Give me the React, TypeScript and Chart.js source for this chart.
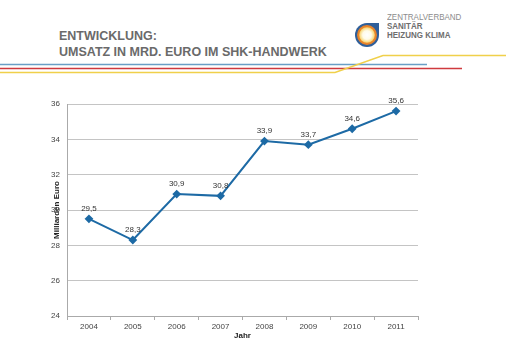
import React, { useEffect, useRef } from "react";
import { Chart, registerables } from "chart.js";

Chart.register(...registerables);

const years = ["2004", "2005", "2006", "2007", "2008", "2009", "2010", "2011"];
const revenue = [29.5, 28.3, 30.9, 30.8, 33.9, 33.7, 34.6, 35.6];
const yMin = 24;
const yMax = 36;
const yStep = 2;
const titleLines = ["ENTWICKLUNG:", "UMSATZ IN MRD. EURO IM SHK-HANDWERK"];
const logoLines = ["ZENTRALVERBAND", "SANITÄR", "HEIZUNG KLIMA"];
const yAxisTitle = "Milliarden Euro";
const xAxisTitle = "Jahr";

const valueLabels = {
  id: "valueLabels",
  afterDatasetsDraw(chart: any) {
    const ctx = chart.ctx;
    const meta = chart.getDatasetMeta(0);
    const data = chart.data.datasets[0].data as number[];
    ctx.save();
    ctx.font = "8px 'Liberation Sans', Arial, sans-serif";
    ctx.fillStyle = "#333";
    ctx.textAlign = "center";
    ctx.textBaseline = "middle";
    meta.data.forEach((pt: any, i: number) => {
      ctx.fillText(data[i].toFixed(1).replace(".", ","), pt.x, pt.y - 10);
    });
    ctx.restore();
  },
};

export default function App() {
  const ref = useRef<HTMLCanvasElement>(null);
  useEffect(() => {
    if (!ref.current) return;
    const chart = new Chart(ref.current, {
      type: "line",
      data: {
        labels: years,
        datasets: [
          {
            data: revenue,
            borderColor: "#1d6aa5",
            backgroundColor: "#1d6aa5",
            borderWidth: 2,
            pointStyle: "rectRot",
            pointRadius: 3,
            tension: 0,
          },
        ],
      },
      options: {
        animation: false,
        responsive: false,
        maintainAspectRatio: false,
        layout: { padding: { left: 0, right: 88, top: 104, bottom: 0 } },
        plugins: { legend: { display: false }, tooltip: { enabled: false } },
        scales: {
          x: {
            offset: true,
            afterFit(scale: any) {
              scale.height = 40;
            },
            grid: {
              drawOnChartArea: false,
              drawTicks: true,
              tickLength: 4,
              offset: true,
              color: "#aaa",
            },
            border: { color: "#aaa" },
            ticks: {
              padding: 2,
              color: "#444",
              font: { size: 8, family: "'Liberation Sans', Arial, sans-serif" },
              maxRotation: 0,
            },
            title: {
              display: true,
              text: xAxisTitle,
              color: "#222",
              font: { size: 8, weight: "bold", family: "'Liberation Sans', Arial, sans-serif" },
              padding: { top: 0, bottom: 15 },
            },
          },
          y: {
            min: yMin,
            max: yMax,
            afterFit(scale: any) {
              scale.width = 67;
            },
            ticks: {
              stepSize: yStep,
              padding: 7,
              color: "#444",
              font: { size: 8, family: "'Liberation Sans', Arial, sans-serif" },
            },
            grid: { drawTicks: false, color: "#c4c4c4" },
            border: { color: "#aaa" },
            title: {
              display: true,
              text: yAxisTitle,
              color: "#222",
              font: { size: 8, weight: "bold", family: "'Liberation Sans', Arial, sans-serif" },
              padding: { top: 52, bottom: 0 },
            },
          },
        },
      },
      plugins: [valueLabels],
    });
    return () => chart.destroy();
  }, []);

  const font = "'Liberation Sans', Arial, Helvetica, sans-serif";
  return (
    <div
      style={{
        position: "fixed",
        left: 0,
        top: 0,
        width: 506,
        height: 356,
        background: "#fff",
        overflow: "hidden",
        fontFamily: font,
      }}
    >
      <svg width={506} height={356} style={{ position: "absolute", left: 0, top: 0 }}>
        <line x1={0} y1={64.5} x2={427} y2={64.5} stroke="#6a9fc6" strokeWidth={1.5} />
        <line x1={0} y1={68.5} x2={462} y2={68.5} stroke="#cf3a3f" strokeWidth={1.5} />
        <polyline
          points="0,72.5 335,72.5 383,55.5 506,55.5"
          fill="none"
          stroke="#f0d04a"
          strokeWidth={1.5}
        />
        <defs>
          <radialGradient id="core" cx="50%" cy="50%" r="50%">
            <stop offset="0%" stopColor="#ffffff" />
            <stop offset="55%" stopColor="#fffbe8" />
            <stop offset="100%" stopColor="#f7d36a" />
          </radialGradient>
        </defs>
        <path
          d="M367,23 L379,23 L379,35 A12,12 0 1 1 367,23 Z"
          fill="#2f5f9a"
        />
        <circle cx={367} cy={35} r={10} fill="#e7832a" />
        <circle cx={367} cy={35} r={7.8} fill="url(#core)" />
      </svg>
      <div
        style={{
          position: "absolute",
          left: 59,
          top: 27.6,
          fontSize: 12.5,
          lineHeight: "16.7px",
          fontWeight: "bold",
          color: "#6a6a6a",
          whiteSpace: "nowrap",
        }}
      >
        {titleLines.map((t) => (
          <div key={t}>{t}</div>
        ))}
      </div>
      <div
        style={{
          position: "absolute",
          left: 387,
          top: 11.5,
          fontSize: 9.5,
          lineHeight: "9.2px",
          whiteSpace: "nowrap",
          transform: "scaleX(0.84)",
          transformOrigin: "left top",
        }}
      >
        <div style={{ color: "#8c8c8c" }}>{logoLines[0]}</div>
        <div style={{ color: "#6e6e6e", fontWeight: "bold" }}>{logoLines[1]}</div>
        <div style={{ color: "#6e6e6e", fontWeight: "bold" }}>{logoLines[2]}</div>
      </div>
      <canvas
        ref={ref}
        width={506}
        height={356}
        style={{ position: "absolute", left: 0, top: 0, width: 506, height: 356 }}
      />
    </div>
  );
}
